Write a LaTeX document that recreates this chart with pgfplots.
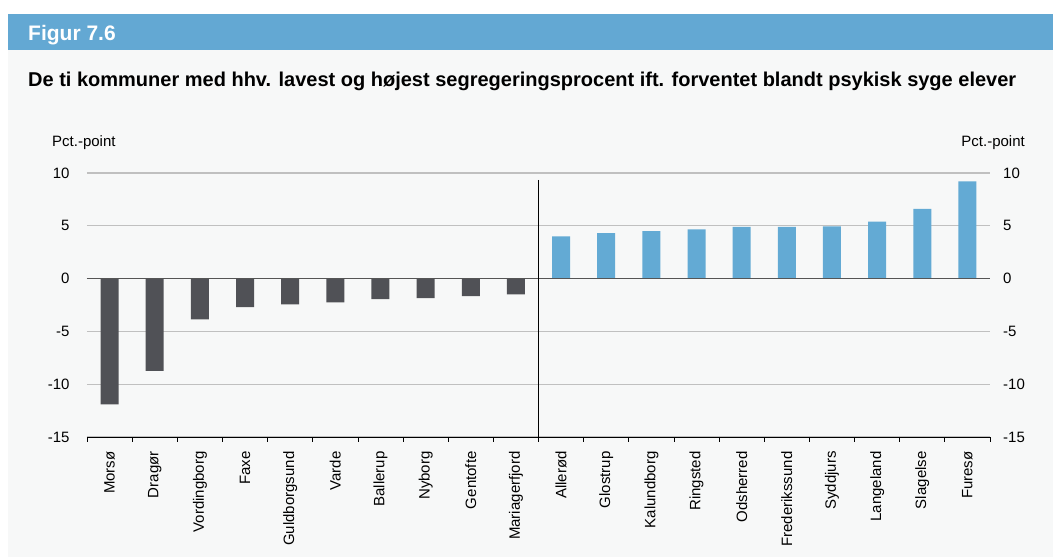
\documentclass[border=0pt]{standalone}
\usepackage{fontspec}
\setmainfont{Liberation Sans}
\usepackage{pgfplots}
\pgfplotsset{compat=1.18}
\definecolor{bg}{RGB}{247,248,248}
\definecolor{head}{RGB}{99,168,211}
\definecolor{barblue}{RGB}{99,170,212}
\definecolor{bardark}{RGB}{80,81,86}
\definecolor{gridc}{RGB}{192,192,192}
\definecolor{zeroc}{RGB}{85,85,85}
\begin{document}
\begin{tikzpicture}[x=1pt,y=1pt]
% background and header
\fill[white] (0,0) rectangle (1053,557);
\fill[bg] (8,0) rectangle (1053,507);
\fill[head] (8,507) rectangle (1053,543);
\node[anchor=base west, inner sep=0pt, text=white, font=\fontsize{21}{21}\selectfont\bfseries] at (28,516) {Figur 7.6};
\node[anchor=base west, inner sep=0pt, font=\fontsize{20}{20}\selectfont\bfseries] at (28,470) {De ti kommuner med hhv. lavest og højest segregeringsprocent ift. forventet blandt psykisk syge elever};
\node[anchor=base west, inner sep=0pt, font=\fontsize{15}{15}\selectfont] at (52,410) {Pct.-point};
\node[anchor=base east, inner sep=0pt, font=\fontsize{15}{15}\selectfont] at (1025,410) {Pct.-point};

\begin{axis}[
    at={(87pt,120pt)}, anchor=south west,
    scale only axis, width=903pt, height=264pt,
    xmin=-0.5, xmax=19.5, ymin=-15, ymax=10,
    ytick={-15,-10,-5,0,5,10},
    axis x line*=bottom, axis y line*=left,
    y axis line style={draw=none},
    ytick style={draw=none},
    ymajorgrids=true,
    grid style={gridc, line width=1.2pt},
    xtick={0,...,19},
    xticklabels={Morsø,Dragør,Vordingborg,Faxe,Guldborgsund,Varde,Ballerup,Nyborg,Gentofte,Mariagerfjord,Allerød,Glostrup,Kalundborg,Ringsted,Odsherred,Frederikssund,Syddjurs,Langeland,Slagelse,Furesø},
    major x tick style={draw=none},
    minor xtick={-0.5,0.5,...,19.5},
    minor tick length=5pt,
    tick align=outside,
    minor x tick style={black, line width=0.8pt},
    x axis line style={black, line width=0.8pt, -},
    xticklabel style={rotate=90, anchor=east, inner xsep=10pt, inner ysep=0pt, font=\fontsize{15}{15}\selectfont},
    yticklabel style={anchor=east, inner sep=0pt, xshift=-13pt, font=\fontsize{15}{15}\selectfont},
    /pgf/number format/assume math mode=true,
    ybar, bar width=18pt, bar shift=0pt,
]
\addplot[fill=bardark, draw=none] coordinates {
  (0,-11.9) (1,-8.75) (2,-3.85) (3,-2.7) (4,-2.45)
  (5,-2.25) (6,-1.95) (7,-1.85) (8,-1.65) (9,-1.5)
};
\addplot[fill=barblue, draw=none] coordinates {
  (10,4.0) (11,4.3) (12,4.5) (13,4.65) (14,4.9)
  (15,4.9) (16,4.95) (17,5.4) (18,6.6) (19,9.2)
};
\draw[zeroc, line width=1.6pt] (axis cs:-0.5,0) -- (axis cs:19.5,0);
\draw[black, line width=0.8pt] (axis cs:9.5,9.35) -- ([yshift=-5pt]axis cs:9.5,-15);
\end{axis}

\begin{axis}[
    at={(87pt,120pt)}, anchor=south west,
    scale only axis, width=903pt, height=264pt,
    xmin=-0.5, xmax=19.5, ymin=-15, ymax=10,
    ytick={-15,-10,-5,0,5,10},
    hide x axis,
    axis y line*=right,
    y axis line style={draw=none},
    ytick style={draw=none},
    yticklabel style={anchor=west, inner sep=0pt, xshift=13pt, font=\fontsize{15}{15}\selectfont},
    /pgf/number format/assume math mode=true,
]
\end{axis}
\end{tikzpicture}
\end{document}
